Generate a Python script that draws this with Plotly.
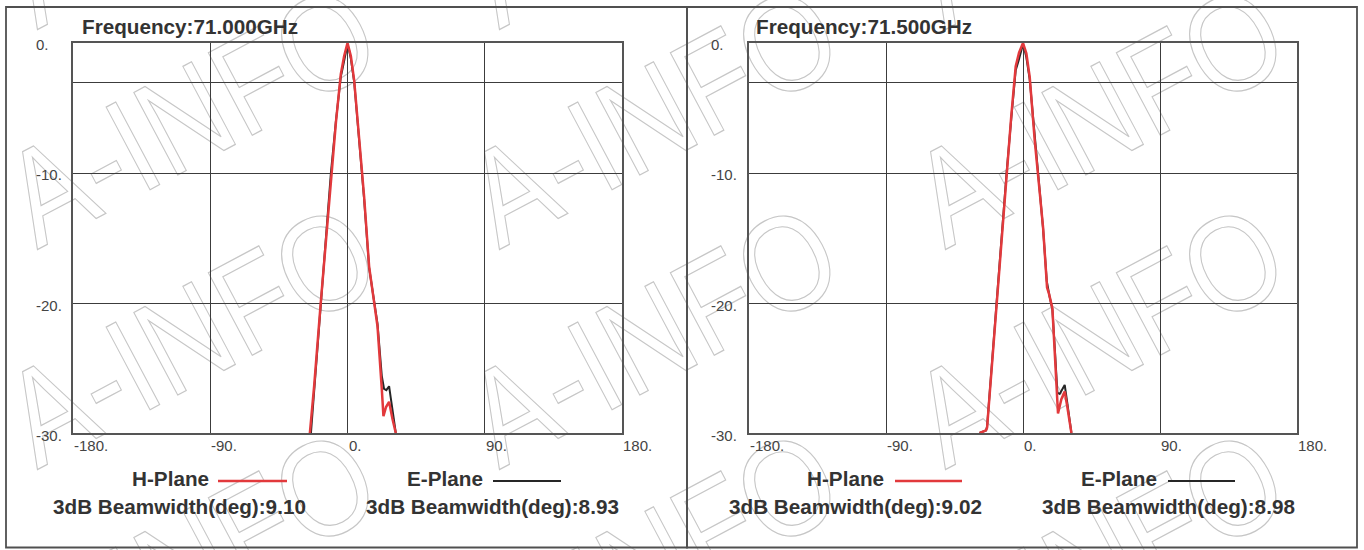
import base64
import plotly.graph_objects as go

# ---------------- data ----------------
freq_titles = ["Frequency:71.000GHz", "Frequency:71.500GHz"]

# 71.000 GHz
h1_deg = [-24.7, -21.9, -17.5, -14.2, -10.9, -7.6, -4.4, -2.2, 0.0, 2.2, 4.4, 7.6, 10.9,
          14.2, 17.5, 19.7, 22.5, 23.6, 25.3, 27.3, 29.5, 31.7]
h1_db = [-30.0, -26.4, -19.9, -15.3, -10.2, -6.1, -2.4, -1.0, 0.0, -1.0, -2.9, -7.0, -11.8,
         -17.2, -20.2, -21.8, -26.6, -28.7, -28.0, -27.6, -28.9, -30.0]
e1_deg = [-24.0, -21.5, -17.5, -14.2, -10.9, -7.6, -4.4, -3.3, -1.1, 0.0, 1.1, 2.2, 4.4, 7.6,
          10.9, 14.2, 17.0, 17.5, 19.7, 22.5, 24.0, 25.5, 27.3, 28.4, 30.0, 31.7]
e1_db = [-30.0, -26.2, -19.6, -15.0, -10.0, -6.0, -2.6, -2.0, -0.7, -0.1, -0.6, -1.2, -3.0, -7.2,
         -12.0, -17.3, -19.6, -20.0, -21.6, -25.6, -26.6, -26.7, -26.4, -27.3, -28.7, -30.0]

# 71.500 GHz
h2_deg = [-28.5, -24.3, -23.6, -20.5, -17.3, -14.0, -10.8, -7.7, -4.8, -2.6, 0.0, 2.2, 4.4,
          7.7, 11.0, 13.2, 15.8, 17.1, 19.3, 20.9, 23.0, 25.2, 27.4, 29.0, 31.8]
h2_db = [-30.0, -29.8, -29.6, -24.8, -20.0, -15.1, -10.0, -5.6, -1.8, -0.75, 0.0, -0.8, -2.6,
         -7.5, -11.5, -14.2, -18.8, -19.3, -20.4, -23.7, -28.5, -27.4, -26.8, -27.9, -30.0]
e2_deg = [-28.5, -24.3, -23.6, -20.5, -17.3, -14.0, -10.8, -7.7, -4.8, -3.0, -1.0, 0.0, 1.0,
          2.2, 4.4, 7.7, 11.0, 13.2, 15.6, 17.3, 19.3, 20.9, 22.6, 24.1, 25.5, 27.4, 29.0, 31.8]
e2_db = [-30.0, -29.8, -29.5, -24.6, -19.8, -15.0, -10.0, -5.8, -2.1, -1.4, -0.5, -0.1, -0.5,
         -1.1, -2.8, -7.4, -11.4, -14.3, -18.3, -19.4, -20.5, -23.5, -26.9, -27.0, -26.7, -26.3,
         -27.6, -30.0]

beamwidth_h = ["9.10", "9.02"]
beamwidth_e = ["8.93", "8.98"]

x_tick_vals = [-180, -90, 0, 90, 180]
x_tick_text = ["-180.", "-90.", "0.", "90.", "180."]
y_tick_vals = [0, -10, -20, -30]
y_tick_text = ["0.", "-10.", "-20.", "-30."]

# ---------------- styling / layout ----------------
W, H = 1364, 550
RED = "#e2393c"
BLACK = "#262626"
GRID = "#3c3c3c"
FRAME = "#555555"
TEXT = "#333333"


def px(x):
    return x / W


def py(y):
    return 1 - y / H


panels = [
    dict(x0=73.3, x1=621.7, ylab=35, title_x=82, hp_right=209, hl=(218, 287), ep_right=483,
         el=(493, 561), bwh_x=53, bwe_x=366),
    dict(x0=749.0, x1=1297.0, ylab=710, title_x=756, hp_right=884, hl=(895, 962), ep_right=1157,
         el=(1168, 1235), bwh_x=729, bwe_x=1042),
]
plot_top, plot_bot = 43, 433

fig = go.Figure()
series = [(h1_deg, h1_db, e1_deg, e1_db), (h2_deg, h2_db, e2_deg, e2_db)]
for i, (hd, hv, ed, ev) in enumerate(series):
    xa = "x" if i == 0 else "x2"
    ya = "y" if i == 0 else "y2"
    fig.add_trace(go.Scatter(x=ed, y=ev, mode="lines", line=dict(color=BLACK, width=2),
                             xaxis=xa, yaxis=ya, showlegend=False, cliponaxis=True))
    fig.add_trace(go.Scatter(x=hd, y=hv, mode="lines", line=dict(color=RED, width=2.5),
                             xaxis=xa, yaxis=ya, showlegend=False, cliponaxis=True))

axis_common_x = dict(range=[-180, 180], tickvals=[-90, 0, 90], showticklabels=False,
                     showgrid=True, gridcolor=GRID, gridwidth=1, zeroline=False,
                     showline=True, linecolor=FRAME, linewidth=1.5, mirror=True, ticks="",
                     fixedrange=True)
axis_common_y = dict(range=[-30, 0], tickvals=[-20, -10, -3], showticklabels=False,
                     showgrid=True, gridcolor=GRID, gridwidth=1, zeroline=False,
                     showline=True, linecolor=FRAME, linewidth=1.5, mirror=True, ticks="",
                     fixedrange=True)
ydom = [py(plot_bot), py(plot_top)]

annotations = []
shapes = []
tick_font = dict(family="Liberation Sans, Arial", size=15, color="#444444")
big_font = dict(family="Liberation Sans, Arial", size=20.7, color=TEXT, weight="bold")

for i, p in enumerate(panels):
    xa = "x" if i == 0 else "x2"
    ya = "y" if i == 0 else "y2"
    # tick labels
    for v, t in zip(x_tick_vals, x_tick_text):
        annotations.append(dict(x=v, xref=xa, y=py(445), yref="paper", text=t, showarrow=False,
                                xanchor="left", yanchor="middle", xshift=-1, font=tick_font))
    for v, t in zip(y_tick_vals, y_tick_text):
        annotations.append(dict(x=px(p["ylab"]), xref="paper", y=v, yref=ya, text=t,
                                showarrow=False, xanchor="left", yanchor="middle", yshift=-2,
                                xshift=-1, font=tick_font))
    # title
    annotations.append(dict(x=px(p["title_x"]), xref="paper", y=py(27), yref="paper",
                            text=freq_titles[i], showarrow=False, xanchor="left",
                            yanchor="middle", xshift=-2, font=big_font))
    # legend texts
    annotations.append(dict(x=px(p["hp_right"]), xref="paper", y=py(479), yref="paper",
                            text="H-Plane", showarrow=False, xanchor="right", yanchor="middle",
                            xshift=2, font=big_font))
    annotations.append(dict(x=px(p["ep_right"]), xref="paper", y=py(479), yref="paper",
                            text="E-Plane", showarrow=False, xanchor="right", yanchor="middle",
                            xshift=2, font=big_font))
    annotations.append(dict(x=px(p["bwh_x"]), xref="paper", y=py(506), yref="paper",
                            text="3dB Beamwidth(deg):" + beamwidth_h[i], showarrow=False,
                            xanchor="left", yanchor="middle", xshift=-2, font=big_font))
    annotations.append(dict(x=px(p["bwe_x"]), xref="paper", y=py(506), yref="paper",
                            text="3dB Beamwidth(deg):" + beamwidth_e[i], showarrow=False,
                            xanchor="left", yanchor="middle", xshift=-2, font=big_font))
    shapes.append(dict(type="line", xref="paper", yref="paper", x0=px(p["hl"][0]),
                       x1=px(p["hl"][1]), y0=py(481), y1=py(481),
                       line=dict(color=RED, width=2.7)))
    shapes.append(dict(type="line", xref="paper", yref="paper", x0=px(p["el"][0]),
                       x1=px(p["el"][1]), y0=py(481), y1=py(481),
                       line=dict(color=BLACK, width=2.2)))

# panel frames
shapes.append(dict(type="rect", xref="paper", yref="paper", x0=px(6), x1=px(687), y0=py(547.5),
                   y1=py(7), line=dict(color="#505050", width=1.8)))
shapes.append(dict(type="rect", xref="paper", yref="paper", x0=px(687), x1=px(1357),
                   y0=py(547.5), y1=py(7), line=dict(color="#505050", width=1.8)))

# watermark (outlined, rotated text) as an SVG background image
wm_cols = [190, 652, 1098]
wm_rows = [-105, 115, 335, 560]
wm_items = []
for r in wm_rows:
    for c in wm_cols:
        wm_items.append(
            f'<text x="0" y="0" text-anchor="middle" dominant-baseline="central" '
            f'transform="translate({c},{r}) rotate(-28) scale(0.86,1)" '
            f'font-family="Liberation Sans, Arial, sans-serif" font-size="136" '
            f'fill="none" stroke="#c6c6c6" stroke-width="1.1" '
            f'vector-effect="non-scaling-stroke">A-INFO</text>')
svg = (f'<svg xmlns="http://www.w3.org/2000/svg" width="{W}" height="{H}" '
       f'viewBox="0 0 {W} {H}">' + "".join(wm_items) + "</svg>")
svg_uri = "data:image/svg+xml;base64," + base64.b64encode(svg.encode()).decode()

fig.update_layout(
    width=W, height=H,
    margin=dict(l=0, r=0, t=0, b=0),
    paper_bgcolor="white",
    plot_bgcolor="rgba(0,0,0,0)",
    showlegend=False,
    xaxis=dict(domain=[px(panels[0]["x0"]), px(panels[0]["x1"])], anchor="y", **axis_common_x),
    yaxis=dict(domain=ydom, anchor="x", **axis_common_y),
    xaxis2=dict(domain=[px(panels[1]["x0"]), px(panels[1]["x1"])], anchor="y2", **axis_common_x),
    yaxis2=dict(domain=ydom, anchor="x2", **axis_common_y),
    annotations=annotations,
    shapes=shapes,
    images=[dict(source=svg_uri, xref="paper", yref="paper", x=0, y=1, sizex=1, sizey=1,
                 xanchor="left", yanchor="top", sizing="stretch", layer="below")],
)

fig.write_html(
    "out.html",
    config={"displayModeBar": False},
    post_script="document.body.style.margin='0';document.body.style.overflow='hidden';",
)
